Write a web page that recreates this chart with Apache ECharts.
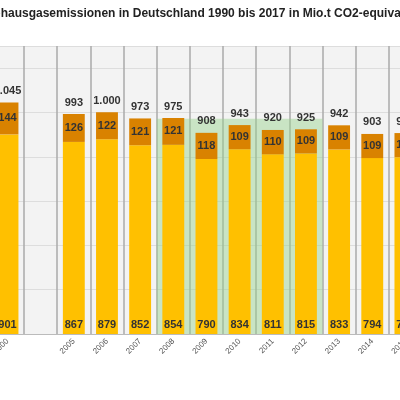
<!DOCTYPE html><html><head><meta charset="utf-8"><script src="https://cdn.jsdelivr.net/npm/echarts@6/dist/echarts.min.js"></script>
<style>html,body{margin:0;background:#fff;overflow:hidden}#c{width:432px;height:400px;margin-left:-10px}</style></head><body><div id="c"></div><script>
const categories=["2000","","2005","2006","2007","2008","2009","2010","2011","2012","2013","2014","2015"];
const lower=[901,null,867,879,852,854,790,834,811,815,833,794,798];
const upper=[144,null,126,122,121,121,118,109,110,109,109,109,109];
const totals=[1045,null,993,1000,973,975,908,943,920,925,942,903,907];
const fmt=v=>v>=1000?Math.floor(v/1000)+'.'+String(v%1000).padStart(3,'0'):String(v);
const c=echarts.init(document.getElementById('c'));
c.setOption({animation:false,
title:{text:'Treibhausgasemissionen in Deutschland 1990 bis 2017 in Mio.t CO2-equivalente',left:-23,top:3,textStyle:{fontSize:12,fontWeight:'bold',color:'#222',fontFamily:'Liberation Sans'}},
grid:{left:0,right:0,top:46,bottom:66,show:true,backgroundColor:'#f3f3f3',borderWidth:0},
xAxis:{type:'category',data:categories,axisTick:{show:false},axisLine:{lineStyle:{color:'#bbb'}},
 splitLine:{show:true,lineStyle:{color:'#aaa',width:1.5}},
 axisLabel:{rotate:45,fontSize:8,color:'#555',margin:6,interval:0}},
yAxis:{type:'value',min:0,max:1300,interval:200,axisLabel:{show:false},axisLine:{show:false},splitLine:{lineStyle:{color:'#ddd'}}},
series:[
{type:'bar',stack:'a',data:lower,barWidth:'66%',itemStyle:{color:'#ffc000'},
 label:{show:true,position:'insideBottom',distance:4,fontSize:11,fontWeight:'bold',color:'#333',fontFamily:'Liberation Sans'},
 markArea:{silent:true,itemStyle:{color:'rgba(150,210,140,0.45)'},data:[[{xAxis:'2008',yAxis:0},{xAxis:'2012',yAxis:972}]]}},
{type:'bar',stack:'a',data:upper,itemStyle:{color:'#d98200'},
 label:{show:true,position:'inside',fontSize:11,fontWeight:'bold',color:'#333',fontFamily:'Liberation Sans'}},
{type:'bar',stack:'a',data:totals.map(()=>0),itemStyle:{color:'transparent'},
 label:{show:true,position:'top',distance:6,fontSize:11,fontWeight:'bold',color:'#333',fontFamily:'Liberation Sans',
 formatter:p=>totals[p.dataIndex]==null?'':fmt(totals[p.dataIndex])}}
]});
</script></body></html>
